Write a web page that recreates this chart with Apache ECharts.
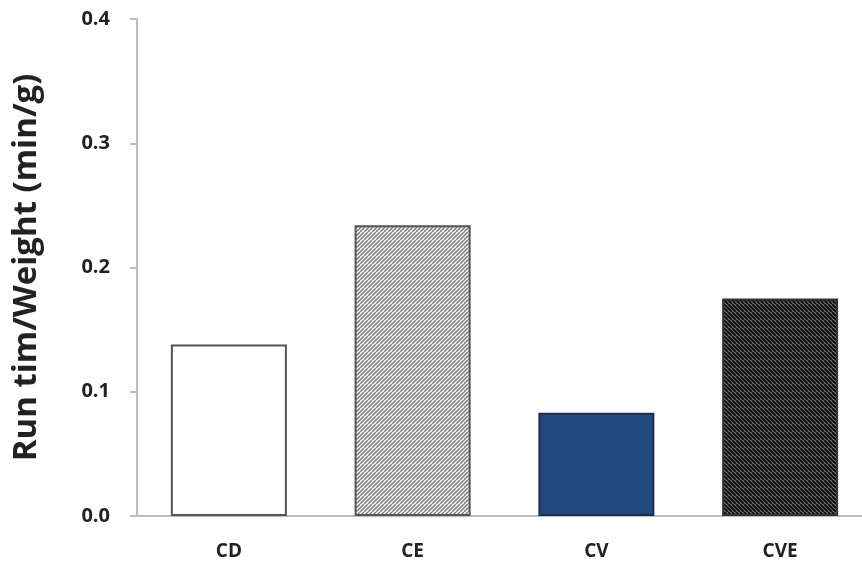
<!DOCTYPE html>
<html>
<head>
<meta charset="utf-8">
<script src="https://cdn.jsdelivr.net/npm/echarts@6/dist/echarts.min.js"></script>
<style>
  html, body { margin: 0; padding: 0; background: #fff; overflow: hidden; }
  /* the plot area runs slightly past the right edge of the window */
  #chart { width: 872px; height: 569px; }
</style>
</head>
<body>
<div id="chart"></div>
<script>
// Treatment groups and their run time per weight (min/g)
const categories = ['CD', 'CE', 'CV', 'CVE'];
const values = [0.138, 0.234, 0.083, 0.175];
const yTicks = [0.0, 0.1, 0.2, 0.3, 0.4];

// Build a small tile of diagonal stripes for hatched fills
function stripeTile(bg, fg, dir, period, lineW) {
  const size = period * 2;
  const c = document.createElement('canvas');
  c.width = size; c.height = size;
  const g = c.getContext('2d');
  g.fillStyle = bg;
  g.fillRect(0, 0, size, size);
  g.strokeStyle = fg;
  g.lineWidth = lineW;
  for (let x = -size; x <= size * 2; x += period) {
    g.beginPath();
    if (dir === '/') { g.moveTo(x, size); g.lineTo(x + size, 0); }
    else { g.moveTo(x, 0); g.lineTo(x + size, size); }
    g.stroke();
  }
  return { image: c, repeat: 'repeat' };
}

const fills = [
  '#ffffff',
  stripeTile('#ffffff', '#8a8a8a', '/', 4, 1.6),
  '#214a7e',
  stripeTile('#7a7a7a', '#111111', '\\', 4, 2.0)
];
const borders = ['#555555', '#555555', '#1b2f4d', '#333333'];

const chart = echarts.init(document.getElementById('chart'), null, { renderer: 'canvas' });
chart.setOption({
  animation: false,
  backgroundColor: '#ffffff',
  grid: { left: 137, top: 19, bottom: 53, right: 0, containLabel: false },
  xAxis: {
    type: 'category',
    data: categories,
    axisLine: { lineStyle: { color: '#bdbdbd', width: 2 } },
    axisTick: { show: false },
    axisLabel: {
      margin: 26,
      color: '#222',
      fontFamily: 'Open Sans',
      fontWeight: 'bold',
      fontSize: 19
    }
  },
  yAxis: {
    type: 'value',
    min: 0,
    max: 0.4,
    interval: 0.1,
    name: 'Run tim/Weight (min/g)',
    nameLocation: 'middle',
    nameGap: 94,
    nameTextStyle: {
      color: '#222',
      fontFamily: 'Open Sans',
      fontWeight: 'bold',
      fontSize: 33
    },
    splitLine: { show: false },
    axisLine: { show: true, lineStyle: { color: '#bdbdbd', width: 2 } },
    axisTick: { show: true, length: 7, lineStyle: { color: '#bdbdbd', width: 2 } },
    axisLabel: {
      margin: 27,
      color: '#222',
      fontFamily: 'Open Sans',
      fontWeight: 'bold',
      fontSize: 20,
      formatter: v => {
        const t = yTicks.find(k => Math.abs(k - v) < 1e-9);
        return (t === undefined ? v : t).toFixed(1);
      }
    }
  },
  series: [{
    type: 'bar',
    barWidth: 116,
    data: values.map((v, i) => ({
      value: v,
      itemStyle: { color: fills[i], borderColor: borders[i], borderWidth: 2 }
    }))
  }]
});
</script>
</body>
</html>
